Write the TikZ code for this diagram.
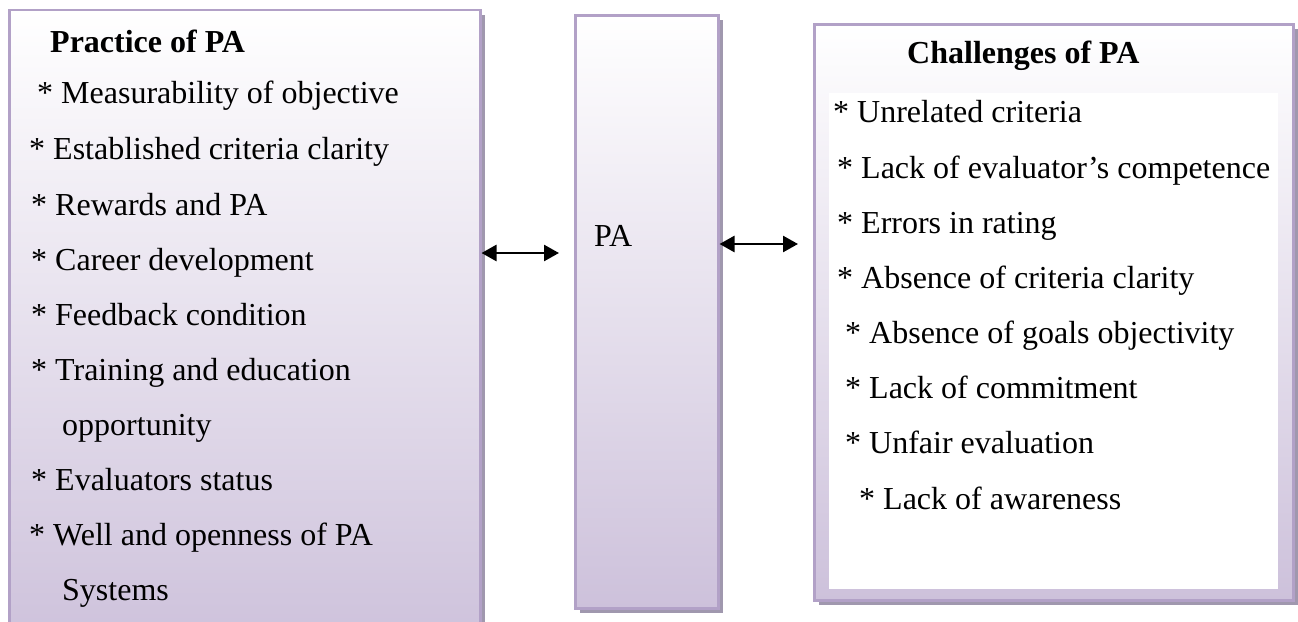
\documentclass[tikz,border=0pt]{standalone}
\usepackage{fontspec}
\setmainfont{Liberation Serif}
\usetikzlibrary{arrows.meta,shadows}
\definecolor{lavline}{RGB}{178,161,199}
\definecolor{lavfill}{RGB}{205,193,219}
\definecolor{shadowc}{RGB}{160,152,174}
\begin{document}
\begin{tikzpicture}[x=1pt,y=-1pt,
  box/.style={draw=lavline, line width=2.5pt, top color=white, bottom color=lavfill,
    inner sep=0pt, anchor=north west,
    drop shadow={shadow xshift=4.5pt, shadow yshift=-5pt, fill=shadowc, opacity=1}},
  innerbox/.style={fill=white, draw=none, inner sep=0pt, anchor=north west},
  item/.style={anchor=base west, inner sep=0pt, font=\fontsize{32}{38}\selectfont},
  head/.style={anchor=base west, inner sep=0pt, font=\fontsize{32}{38}\selectfont\bfseries},
  biarrow/.style={line width=2.6pt, {Triangle[length=15pt,width=16pt]}-{Triangle[length=15pt,width=16pt]}}
]
\useasboundingbox (0,0) rectangle (1298,621);
\clip (0,0) rectangle (1298,621);

% boxes
\node[box, minimum width=471pt, minimum height=640pt] (left) at (8,8.5) {};
\node[box, minimum width=143pt, minimum height=593pt] (mid) at (574,14) {};
\node[box, minimum width=479pt, minimum height=576pt] (right) at (813,23) {};
\node[innerbox, minimum width=449pt, minimum height=496pt] (inner) at (829,93) {};

% left texts
\node[head] (l0) at (50,52) {Practice of PA};
\node[item] (l1) at (37,103) {* Measurability of objective};
\node[item] (l2) at (29,159) {* Established criteria clarity};
\node[item] (l3) at (31,215) {* Rewards and PA};
\node[item] (l4) at (31,270) {* Career development};
\node[item] (l5) at (31,325) {* Feedback condition};
\node[item] (l6) at (31,380) {* Training and education};
\node[item] (l7) at (62,435) {opportunity};
\node[item] (l8) at (31,490) {* Evaluators status};
\node[item] (l9) at (29,545) {* Well and openness of PA};
\node[item] (l10) at (62,600) {Systems};

% middle text
\node[item] (pa) at (594,246) {PA};

% right texts
\node[head] (r0) at (907,63) {Challenges of PA};
\node[item] (r1) at (833,122) {* Unrelated criteria};
\node[item] (r2) at (837,178) {* Lack of evaluator’s competence};
\node[item] (r3) at (837,233) {* Errors in rating};
\node[item] (r4) at (837,288) {* Absence of criteria clarity};
\node[item] (r5) at (845,343) {* Absence of goals objectivity};
\node[item] (r6) at (845,398) {* Lack of commitment};
\node[item] (r7) at (845,453) {* Unfair evaluation};
\node[item] (r8) at (859,509) {* Lack of awareness};

% connectors
\coordinate (a1) at (0,253);
\coordinate (a2) at (0,244);
\draw[biarrow] (left.east |- a1) -- ([xshift=-15pt]mid.west |- a1);
\draw[biarrow] (mid.east |- a2) -- ([xshift=-15pt]right.west |- a2);
\end{tikzpicture}
\end{document}
